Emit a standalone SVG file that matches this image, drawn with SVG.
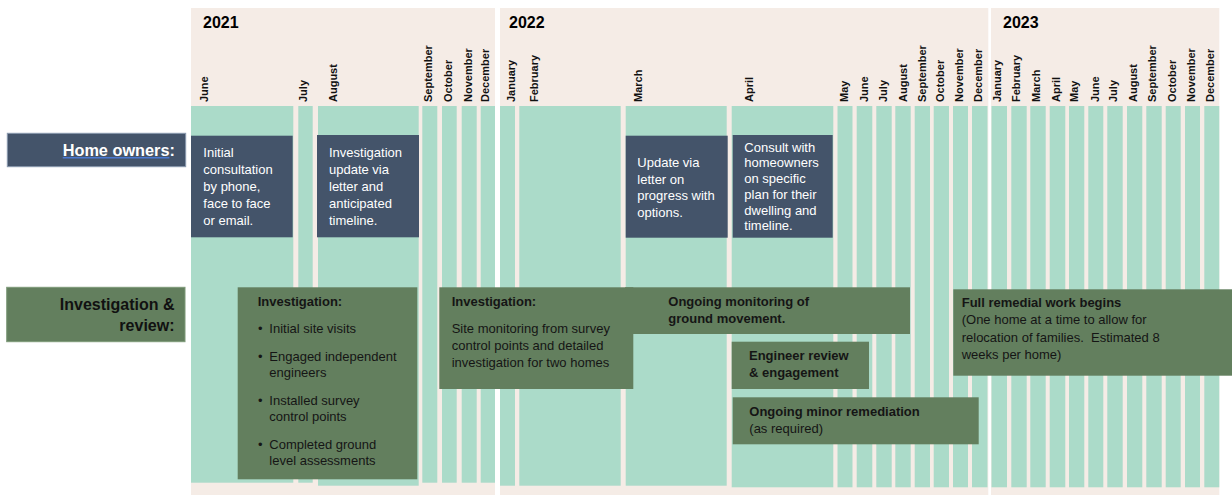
<svg xmlns="http://www.w3.org/2000/svg" width="1232" height="495" viewBox="0 0 1232 495">
<style>
  text { font-family: "Liberation Sans", Arial, sans-serif; }
  .panel { fill: #F5ECE6; }
  .col { fill: #ABDBC9; }
  .yr { font-size: 16px; font-weight: bold; fill: #000; }
  .mo { font-size: 11px; font-weight: bold; fill: #111; }
  .dark { fill: #44546A; }
  .grn { fill: #637F5E; }
  .wt { font-size: 13px; fill: #FFFFFF; }
  .gt { font-size: 13px; fill: #151515; }
  .gb { font-size: 13px; font-weight: bold; fill: #151515; }
  .lbl { font-size: 16px; font-weight: bold; }
</style>

<g id="timeline-background">
  <rect class="panel" x="191" y="8" width="304" height="487"/>
  <rect class="panel" x="500" y="8" width="488.3" height="487"/>
  <rect class="panel" x="991" y="8" width="228.3" height="487"/>
  <text class="yr" x="203" y="28">2021</text>
  <text class="yr" x="509" y="28">2022</text>
  <text class="yr" x="1003" y="28">2023</text>

  <!-- 2021 columns -->
  <rect class="col" x="191" y="106" width="102.3" height="376.7"/>
  <rect class="col" x="298.3" y="106" width="14.4" height="376.7"/>
  <rect class="col" x="318" y="106" width="100.7" height="379.7"/>
  <rect class="col" x="422.3" y="106" width="15" height="376.7"/>
  <rect class="col" x="442" y="106" width="14.7" height="376.7"/>
  <rect class="col" x="461.7" y="106" width="15" height="376.7"/>
  <rect class="col" x="480.7" y="106" width="14.3" height="376.7"/>
  <!-- 2022 columns -->
  <rect class="col" x="500" y="106" width="15" height="379.7"/>
  <rect class="col" x="519.3" y="106" width="101.4" height="379.7"/>
  <rect class="col" x="625.7" y="106" width="101" height="379.7"/>
  <rect class="col" x="731.7" y="106" width="101.6" height="381.3"/>
  <rect class="col" x="837.5" y="106" width="15" height="381.3"/>
  <rect class="col" x="856.7" y="106" width="15.6" height="381.3"/>
  <rect class="col" x="876.3" y="106" width="15.4" height="381.3"/>
  <rect class="col" x="895.3" y="106" width="15.4" height="381.3"/>
  <rect class="col" x="914.7" y="106" width="15.3" height="381.3"/>
  <rect class="col" x="933.7" y="106" width="15.3" height="381.3"/>
  <rect class="col" x="953" y="106" width="15" height="381.3"/>
  <rect class="col" x="972" y="106" width="15.5" height="381.3"/>
  <!-- 2023 columns -->
  <rect class="col" x="991.5" y="106" width="15.5" height="381.3"/>
  <rect class="col" x="1011.3" y="106" width="15.4" height="381.3"/>
  <rect class="col" x="1030.3" y="106" width="15.4" height="381.3"/>
  <rect class="col" x="1049.7" y="106" width="15.6" height="381.3"/>
  <rect class="col" x="1069" y="106" width="15.3" height="381.3"/>
  <rect class="col" x="1088.3" y="106" width="15" height="381.3"/>
  <rect class="col" x="1107.3" y="106" width="15.4" height="381.3"/>
  <rect class="col" x="1127" y="106" width="15.3" height="381.3"/>
  <rect class="col" x="1146.3" y="106" width="15.4" height="381.3"/>
  <rect class="col" x="1165.7" y="106" width="15" height="381.3"/>
  <rect class="col" x="1185" y="106" width="15" height="381.3"/>
  <rect class="col" x="1204.3" y="106" width="15" height="381.3"/>

  <!-- month labels -->
  <text class="mo" transform="translate(207.5,102) rotate(-90)">June</text>
  <text class="mo" transform="translate(306.5,102) rotate(-90)">July</text>
  <text class="mo" transform="translate(336.5,102) rotate(-90)">August</text>
  <text class="mo" transform="translate(431.5,102) rotate(-90)">September</text>
  <text class="mo" transform="translate(451.5,102) rotate(-90)">October</text>
  <text class="mo" transform="translate(471.5,102) rotate(-90)">November</text>
  <text class="mo" transform="translate(489,102) rotate(-90)">December</text>

  <text class="mo" transform="translate(514.7,102) rotate(-90)">January</text>
  <text class="mo" transform="translate(537.5,102) rotate(-90)">February</text>
  <text class="mo" transform="translate(641.5,102) rotate(-90)">March</text>
  <text class="mo" transform="translate(752.8,102) rotate(-90)">April</text>
  <text class="mo" transform="translate(847.8,102) rotate(-90)">May</text>
  <text class="mo" transform="translate(867.5,102) rotate(-90)">June</text>
  <text class="mo" transform="translate(886.5,102) rotate(-90)">July</text>
  <text class="mo" transform="translate(906.5,102) rotate(-90)">August</text>
  <text class="mo" transform="translate(925.5,102) rotate(-90)">September</text>
  <text class="mo" transform="translate(943.5,102) rotate(-90)">October</text>
  <text class="mo" transform="translate(962.5,102) rotate(-90)">November</text>
  <text class="mo" transform="translate(981.5,102) rotate(-90)">December</text>

  <text class="mo" transform="translate(1000.7,102) rotate(-90)">January</text>
  <text class="mo" transform="translate(1020,102) rotate(-90)">February</text>
  <text class="mo" transform="translate(1039.7,102) rotate(-90)">March</text>
  <text class="mo" transform="translate(1059.5,102) rotate(-90)">April</text>
  <text class="mo" transform="translate(1078.3,102) rotate(-90)">May</text>
  <text class="mo" transform="translate(1099,102) rotate(-90)">June</text>
  <text class="mo" transform="translate(1117.3,102) rotate(-90)">July</text>
  <text class="mo" transform="translate(1137,102) rotate(-90)">August</text>
  <text class="mo" transform="translate(1156.3,102) rotate(-90)">September</text>
  <text class="mo" transform="translate(1175.7,102) rotate(-90)">October</text>
  <text class="mo" transform="translate(1194.7,102) rotate(-90)">November</text>
  <text class="mo" transform="translate(1213.7,102) rotate(-90)">December</text>
</g>

<g id="connectors"></g>

<g id="label-home-owners">
  <rect class="dark" x="7.3" y="133.3" width="178.4" height="33.4" stroke="#8A99AE" stroke-width="1"/>
  <text class="lbl" x="62.7" y="155.7" fill="#FFFFFF" style="font-size:16.3px">Home owners:</text>
  <line x1="62.7" y1="157.8" x2="169.4" y2="157.8" stroke="#4A78D0" stroke-width="1.6"/>
</g>

<g id="label-investigation-review">
  <rect class="grn" x="6.7" y="287.3" width="178.3" height="54.4" stroke="#7E9A79" stroke-width="1"/>
  <text class="lbl" x="174.5" y="310" text-anchor="end" fill="#111">Investigation &amp;</text>
  <text class="lbl" x="174.5" y="330.7" text-anchor="end" fill="#111">review:</text>
</g>

<g id="ho-initial-consultation">
  <rect class="dark" x="191" y="135.7" width="101.7" height="101.6"/>
  <text class="wt" x="203.3" y="156.7">Initial</text>
  <text class="wt" x="203.3" y="173.8">consultation</text>
  <text class="wt" x="203.3" y="190.9">by phone,</text>
  <text class="wt" x="203.3" y="208">face to face</text>
  <text class="wt" x="203.3" y="225.1">or email.</text>
</g>

<g id="ho-investigation-update">
  <rect class="dark" x="317" y="135" width="102" height="102.3"/>
  <text class="wt" x="329" y="156.7">Investigation</text>
  <text class="wt" x="329" y="173.8">update via</text>
  <text class="wt" x="329" y="190.9">letter and</text>
  <text class="wt" x="329" y="208">anticipated</text>
  <text class="wt" x="329" y="225.1">timeline.</text>
</g>

<g id="ho-update-letter">
  <rect class="dark" x="625.7" y="135.7" width="102" height="102"/>
  <text class="wt" x="637.3" y="166.7">Update via</text>
  <text class="wt" x="637.3" y="183.5">letter on</text>
  <text class="wt" x="637.3" y="200.3">progress with</text>
  <text class="wt" x="637.3" y="217.1">options.</text>
</g>

<g id="ho-consult-plan">
  <rect class="dark" x="732.7" y="135" width="100" height="102.7"/>
  <text class="wt" x="744.3" y="151.7">Consult with</text>
  <text class="wt" x="744.3" y="167.4">homeowners</text>
  <text class="wt" x="744.3" y="183.1">on specific</text>
  <text class="wt" x="744.3" y="198.8">plan for their</text>
  <text class="wt" x="744.3" y="214.5">dwelling and</text>
  <text class="wt" x="744.3" y="230.2">timeline.</text>
</g>

<g id="ir-investigation-2021">
  <rect class="grn" x="237.7" y="287.3" width="179.6" height="192"/>
  <text class="gb" x="257.7" y="306">Investigation:</text>
  <text class="gt" x="258" y="333.3">•</text>
  <text class="gt" x="269.3" y="333.3">Initial site visits</text>
  <text class="gt" x="258" y="361">•</text>
  <text class="gt" x="269.3" y="361">Engaged independent</text>
  <text class="gt" x="269.3" y="377">engineers</text>
  <text class="gt" x="258" y="405">•</text>
  <text class="gt" x="269.3" y="405">Installed survey</text>
  <text class="gt" x="269.3" y="421">control points</text>
  <text class="gt" x="258" y="449">•</text>
  <text class="gt" x="269.3" y="449">Completed ground</text>
  <text class="gt" x="269.3" y="465">level assessments</text>
</g>

<g id="ir-investigation-2022">
  <rect class="grn" x="439.3" y="287.3" width="194" height="101.7"/>
  <text class="gb" x="451.7" y="306">Investigation:</text>
  <text class="gt" x="451.7" y="333.3">Site monitoring from survey</text>
  <text class="gt" x="451.7" y="350">control points and detailed</text>
  <text class="gt" x="451.7" y="366.5">investigation for two homes</text>
</g>

<g id="ir-ongoing-monitoring">
  <rect class="grn" x="625" y="287.3" width="285" height="46.7"/>
  <text class="gb" x="668.3" y="306">Ongoing monitoring of</text>
  <text class="gb" x="668.3" y="322.7">ground movement.</text>
</g>

<g id="ir-engineer-review">
  <rect class="grn" x="731.7" y="341.7" width="137.3" height="47.3"/>
  <text class="gb" x="749" y="360">Engineer review</text>
  <text class="gb" x="749" y="376.7">&amp; engagement</text>
</g>

<g id="ir-minor-remediation">
  <rect class="grn" x="732.7" y="397.3" width="246" height="47"/>
  <text class="gb" x="749.3" y="416">Ongoing minor remediation</text>
  <text class="gt" x="749.3" y="432.7">(as required)</text>
</g>

<g id="ir-full-remedial">
  <rect class="grn" x="953.3" y="289.3" width="278.7" height="86.4"/>
  <text class="gb" x="961.7" y="306.7">Full remedial work begins</text>
  <text class="gt" x="961.7" y="324.3">(One home at a time to allow for</text>
  <text class="gt" x="961.7" y="341.5" xml:space="preserve">relocation of families.  Estimated 8</text>
  <text class="gt" x="961.7" y="358.7">weeks per home)</text>
</g>
</svg>
